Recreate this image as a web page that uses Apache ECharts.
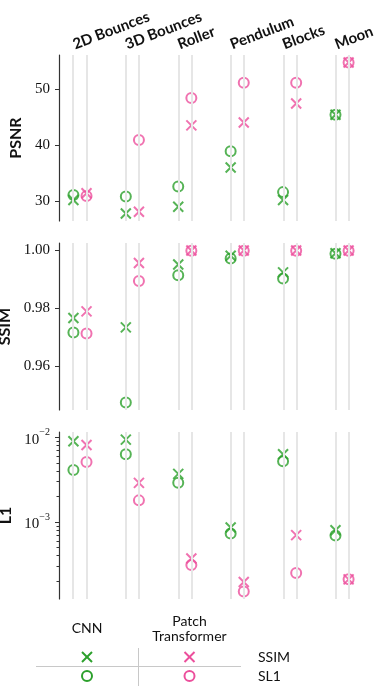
<!DOCTYPE html>
<html>
<head>
<meta charset="utf-8">
<script src="https://cdn.jsdelivr.net/npm/echarts@6/dist/echarts.min.js"></script>
<style>
html, body { margin: 0; padding: 0; background: #fff; }
#chart { width: 374px; height: 687px; }
</style>
</head>
<body>
<div id="chart"></div>
<script>
var datasets = ['2D Bounces', '3D Bounces', 'Roller', 'Pendulum', 'Blocks', 'Moon'];
var models = ['CNN', 'Patch Transformer'];
var losses = ['SSIM', 'SL1'];

// PSNR
var psnrCnnSsim = [30.2, 27.8, 29.0, 36.0, 30.2, 45.4];
var psnrCnnSl1  = [31.1, 30.8, 32.6, 38.9, 31.6, 45.4];
var psnrTrSsim  = [31.4, 28.1, 43.5, 44.0, 47.4, 54.7];
var psnrTrSl1   = [30.9, 40.9, 48.4, 51.1, 51.1, 54.7];
// SSIM
var ssimCnnSsim = [0.9766, 0.9734, 0.9950, 0.9980, 0.9923, 0.9989];
var ssimCnnSl1  = [0.9716, 0.9476, 0.9913, 0.9971, 0.9902, 0.9987];
var ssimTrSsim  = [0.9789, 0.9955, 0.9998, 0.9998, 0.9998, 0.9998];
var ssimTrSl1   = [0.9713, 0.9893, 0.9997, 0.9997, 0.9997, 0.9997];
// L1
var l1CnnSsim = [0.0090, 0.0094, 0.0037, 0.00086, 0.0063, 0.00080];
var l1CnnSl1  = [0.0041, 0.0063, 0.0029, 0.00073, 0.0052, 0.00069];
var l1TrSsim  = [0.0081, 0.0029, 0.00037, 0.000195, 0.00070, 0.00021];
var l1TrSl1   = [0.0051, 0.0018, 0.00031, 0.000151, 0.00025, 0.00021];

// tick labels
var psnrTicks = [30, 40, 50];
var ssimTicks = [0.96, 0.98, 1.00];
var l1Ticks = [0.001, 0.01];
var l1Minor = [2e-4, 3e-4, 4e-4, 5e-4, 6e-4, 7e-4, 8e-4, 9e-4,
               2e-3, 3e-3, 4e-3, 5e-3, 6e-3, 7e-3, 8e-3, 9e-3];

var colors = ['#2ca02c', '#ec4f9c'];
var offsets = [-0.125, 0.125];
var crossPath = 'path://M0,0L10,10M10,0L0,10';
var serif = 'Liberation Serif';
var sans = 'Lato';

var chart = echarts.init(document.getElementById('chart'));

var grids = [
  { left: 59, width: 304, top: 55, height: 166, outerBoundsMode: 'none', containLabel: false },
  { left: 59, width: 304, top: 243, height: 167, outerBoundsMode: 'none', containLabel: false },
  { left: 59, width: 304, top: 432, height: 167, outerBoundsMode: 'none', containLabel: false }
];

var linePositions = [];
datasets.forEach(function (d, i) {
  offsets.forEach(function (o) { linePositions.push(i + o); });
});

var xAxes = grids.map(function (g, k) {
  return {
    type: 'value', gridIndex: k, min: -0.4, max: 5.4,
    position: 'top',
    axisLine: { show: false, onZero: false }, axisTick: { show: false }, splitLine: { show: false },
    axisLabel: k === 0 ? {
      show: true,
      customValues: datasets.map(function (d, i) { return i + offsets[0]; }),
      formatter: function (v) { return datasets[Math.round(v - offsets[0])]; },
      rotate: -21, margin: 10,
      fontFamily: sans, fontWeight: 'bold', fontSize: 15, color: '#111'
    } : { show: false }
  };
});

function yAxisBase(k, name, type, min, max, ticks, fmt) {
  return {
    type: type, gridIndex: k, min: min, max: max, position: 'left',
    name: name, nameLocation: 'middle', nameGap: 27,
    nameTextStyle: { fontFamily: sans, fontWeight: 'bold', fontSize: 16, color: '#111' },
    axisLine: { show: true, onZero: false, lineStyle: { color: '#333', width: 1.2 } },
    axisTick: { show: true, length: 4, customValues: ticks, lineStyle: { color: '#333', width: 1 } },
    splitLine: { show: false },
    axisLabel: {
      customValues: ticks, formatter: fmt, margin: 9,
      fontFamily: serif, fontSize: 15, color: '#111',
      rich: {
        b: { fontFamily: serif, fontSize: 15, color: '#111', lineHeight: 20, verticalAlign: 'bottom' },
        s: { fontFamily: serif, fontSize: 10, color: '#111', lineHeight: 10, verticalAlign: 'top' }
      }
    }
  };
}

var yAxes = [
  yAxisBase(0, 'PSNR', 'value', 26.45, 56.05, psnrTicks, function (v) { return String(Math.round(v)); }),
  yAxisBase(1, 'SSIM', 'value', 0.945, 1.0024, ssimTicks, function (v) { return v.toFixed(2); }),
  yAxisBase(2, 'L1', 'log', Math.pow(10, -3.91), Math.pow(10, -1.937), l1Ticks, function (v) {
    return '{b|10}{s|\u2212' + Math.round(-Math.log10(v)) + '}';
  }),
  {
    type: 'log', gridIndex: 2, min: Math.pow(10, -3.91), max: Math.pow(10, -1.937), position: 'left',
    axisLine: { show: false, onZero: false },
    axisTick: { show: true, length: 2.5, customValues: l1Minor, lineStyle: { color: '#333', width: 1 } },
    axisLabel: { show: false }, splitLine: { show: false }
  }
];

var panels = [
  [[psnrCnnSsim, psnrCnnSl1], [psnrTrSsim, psnrTrSl1]],
  [[ssimCnnSsim, ssimCnnSl1], [ssimTrSsim, ssimTrSl1]],
  [[l1CnnSsim, l1CnnSl1], [l1TrSsim, l1TrSl1]]
];

var series = [];
panels.forEach(function (panel, k) {
  // vertical guide lines behind the markers
  series.push({
    type: 'scatter', xAxisIndex: k, yAxisIndex: k, data: [], z: 1, silent: true,
    markLine: {
      silent: true, symbol: ['none', 'none'], label: { show: false },
      lineStyle: { color: '#e6e6e6', width: 2, type: 'solid' },
      emphasis: { disabled: true },
      data: linePositions.map(function (x) { return { xAxis: x }; })
    }
  });
  panel.forEach(function (pair, m) {
    pair.forEach(function (vals, l) {
      series.push({
        type: 'scatter', name: models[m] + ' ' + losses[l],
        xAxisIndex: k, yAxisIndex: k, z: 3,
        symbol: l === 0 ? crossPath : 'circle',
        symbolSize: 10,
        itemStyle: { color: 'transparent', borderColor: colors[m], borderWidth: 2 },
        emphasis: { disabled: true },
        data: vals.map(function (v, i) { return [i + offsets[m], v]; })
      });
    });
  });
});

// legend table at the bottom
var colX = [87, 189.5];
var rowY = [657, 676];
var legendGraphics = [
  { type: 'text', x: colX[0], y: 628, style: { text: models[0], font: '14px Lato', fill: '#111', textAlign: 'center', textVerticalAlign: 'middle' } },
  { type: 'text', x: colX[1], y: 621, style: { text: 'Patch', font: '14px Lato', fill: '#111', textAlign: 'center', textVerticalAlign: 'middle' } },
  { type: 'text', x: colX[1], y: 636, style: { text: 'Transformer', font: '14px Lato', fill: '#111', textAlign: 'center', textVerticalAlign: 'middle' } },
  { type: 'line', shape: { x1: 36, y1: 666.5, x2: 241, y2: 666.5 }, style: { stroke: '#c8c8c8', lineWidth: 1 } },
  { type: 'line', shape: { x1: 138.5, y1: 648, x2: 138.5, y2: 686 }, style: { stroke: '#c8c8c8', lineWidth: 1 } }
];
losses.forEach(function (loss, l) {
  legendGraphics.push({ type: 'text', x: 258, y: rowY[l], style: { text: loss, font: '14px Lato', fill: '#111', textAlign: 'left', textVerticalAlign: 'middle' } });
  colX.forEach(function (cx, m) {
    if (l === 0) {
      legendGraphics.push({ type: 'polyline', shape: { points: [[cx - 5, rowY[l] - 5], [cx + 5, rowY[l] + 5]] }, style: { stroke: colors[m], lineWidth: 2, fill: null } });
      legendGraphics.push({ type: 'polyline', shape: { points: [[cx - 5, rowY[l] + 5], [cx + 5, rowY[l] - 5]] }, style: { stroke: colors[m], lineWidth: 2, fill: null } });
    } else {
      legendGraphics.push({ type: 'circle', shape: { cx: cx, cy: rowY[l], r: 5 }, style: { stroke: colors[m], lineWidth: 2, fill: null } });
    }
  });
});

chart.setOption({
  animation: false,
  grid: grids,
  xAxis: xAxes,
  yAxis: yAxes,
  series: series,
  graphic: legendGraphics
});
</script>
</body>
</html>
